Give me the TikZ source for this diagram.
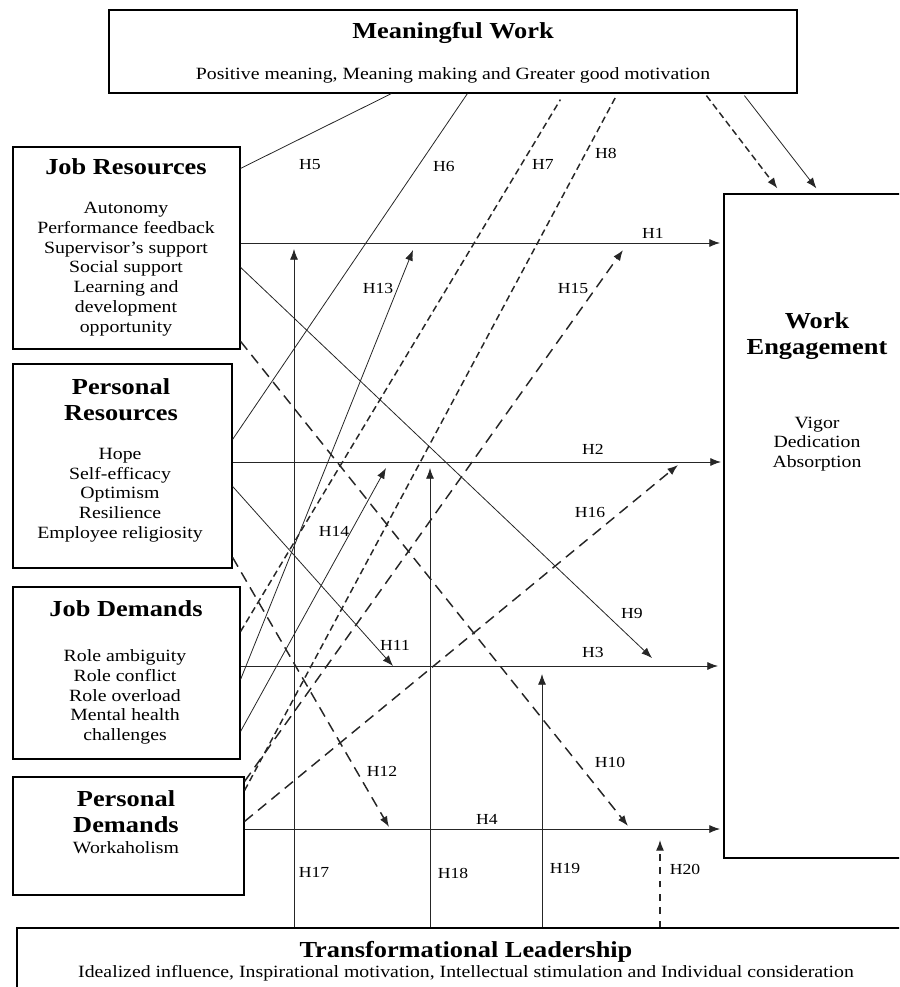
\documentclass[tikz,border=0pt]{standalone}
\usepackage{fontspec}
\setmainfont{Liberation Serif}[FakeStretch=1.15]
\usetikzlibrary{arrows.meta,calc}

\begin{document}
\begin{tikzpicture}[x=0.75pt,y=-0.75pt,>={Latex[length=8pt,width=6pt]},
	box/.style={draw,line width=0.9pt,inner sep=0pt},
	ttl/.style={font=\fontsize{17.2}{19.5}\selectfont\bfseries,align=center,inner sep=0pt},
	txt/.style={font=\fontsize{12.9}{14.8}\selectfont,align=center,inner sep=0pt},
	hyp/.style={font=\fontsize{11.5}{13}\selectfont,inner sep=0pt},
	link/.style={line width=0.6pt,black!85},
	sdash/.style={line width=1.1pt,dash pattern=on 5pt off 3pt},
	ldash/.style={line width=1.1pt,dash pattern=on 8pt off 5pt}]

\clip (0,0) rectangle (899,987);

%----------------------------
% Boxes
%----------------------------
\node[box,minimum width=516pt,minimum height=62.25pt] (mw) at (453,51.5) {};
\node[ttl] (mwt) at (453,33) {Meaningful Work};
\node[txt] (mwd) at (453,75) {Positive meaning, Meaning making and Greater good motivation};

\node[box,minimum width=170.25pt,minimum height=151.5pt] (jr) at (126.5,248) {};
\node[ttl] (jrt) at (126,167) {Job Resources};
\node[txt] (jrd) at (126,269) {Autonomy\\Performance feedback\\Supervisor's support\\Social support\\Learning and\\development\\opportunity};

\node[box,minimum width=164.25pt,minimum height=153pt] (pr) at (122.5,466) {};
\node[ttl] (prt) at (121,400) {Personal\\Resources};
\node[txt] (prd) at (120,495) {Hope\\Self-efficacy\\Optimism\\Resilience\\Employee religiosity};

\node[box,minimum width=170.25pt,minimum height=129pt] (jd) at (126.5,673) {};
\node[ttl] (jdt) at (126,609) {Job Demands};
\node[txt] (jdd) at (125,697) {Role ambiguity\\Role conflict\\Role overload\\Mental health\\challenges};

\node[box,minimum width=173.25pt,minimum height=88.5pt] (pd) at (128.5,836) {};
\node[ttl] (pdt) at (126,812) {Personal\\Demands};
\node[txt] (pdd) at (126,848) {Workaholism};

\node[box,minimum width=139.5pt,minimum height=498pt] (we) at (817,526) {};
\node[ttl] (wet) at (817,336) {Work\\Engagement};
\node[txt] (wed) at (817,444) {Vigor\\Dedication\\Absorption};

\node[box,minimum width=673.5pt,minimum height=61.5pt] (tl) at (466,969) {};
\node[ttl] (tlt) at (466,952) {Transformational Leadership};
\node[txt] (tld) at (466,973) {Idealized influence, Inspirational motivation, Intellectual stimulation and Individual consideration};

%----------------------------
% Arrow tips
%----------------------------
\coordinate (t1) at (720,243);
\coordinate (t2) at (721,462);
\coordinate (t3) at (718,666);
\coordinate (t4) at (720,829);
\coordinate (t9) at (652,658);
\coordinate (t10) at (628,826);
\coordinate (t11) at (393,666);
\coordinate (t12) at (389,827);
\coordinate (t13) at (413,250);
\coordinate (t14) at (386,468);
\coordinate (t15) at (623,250);
\coordinate (t16) at (678,465);
\coordinate (t17) at (294,249);
\coordinate (t18) at (430,468);
\coordinate (t19) at (542,674);
\coordinate (t20) at (660,840);

%----------------------------
% Direct effects H1-H4
%----------------------------
\draw[link,->] (jr.east |- t1) -- (t1);
\draw[link,->] (pr.east |- t2) -- (t2);
\draw[link,->] (jd.east |- t3) -- (t3);
\draw[link,->] (pd.east |- t4) -- (t4);

%----------------------------
% Links to Meaningful Work H5-H8
%----------------------------
\draw[link] ($(jr.north east)+(0,22)$) -- ($(mw.south west)+(283,0)$);
\draw[link] ($(pr.north east)+(0,76)$) -- ($(mw.south west)+(359,0)$);
\draw[link,sdash] ($(jd.north east)+(0,45)$) -- ($(mw.south west)+(452,6)$);
\draw[link,sdash] ($(pd.north east)+(0,14)$) -- ($(mw.south west)+(508,2)$);

% Meaningful Work -> Work Engagement
\draw[link,sdash,->] ($(mw.south west)+(598,2)$) -- ($(we.north west)+(54,-5)$);
\draw[link,->] ($(mw.south west)+(636,2)$) -- ($(we.north west)+(93,-5)$);

%----------------------------
% Moderation H9-H16
%----------------------------
\draw[link,->] ($(jr.north east)+(0,121)$) -- (t9);
\draw[link,ldash,->] ($(jr.north east)+(0,195)$) -- (t10);
\draw[link,->] ($(pr.north east)+(0,123)$) -- (t11);
\draw[link,ldash,->] ($(pr.north east)+(0,194)$) -- (t12);
\draw[link,->] ($(jd.north east)+(0,93)$) -- (t13);
\draw[link,->] ($(jd.north east)+(0,145)$) -- (t14);
\draw[link,ldash,->] ($(pd.north east)+(0,5)$) -- (t15);
\draw[link,ldash,->] ($(pd.north east)+(0,45)$) -- (t16);

%----------------------------
% Transformational Leadership H17-H20
%----------------------------
\draw[link,->] (tl.north -| t17) -- (t17);
\draw[link,->] (tl.north -| t18) -- (t18);
\draw[link,->] (tl.north -| t19) -- (t19);
\draw[link,->,dash pattern=on 5pt off 5pt,line width=1pt] (tl.north -| t20) -- (t20);

%----------------------------
% Hypothesis labels
%----------------------------
\node[hyp] (l1) at (653,233) {H1};
\node[hyp] (l2) at (593,449) {H2};
\node[hyp] (l3) at (593,652) {H3};
\node[hyp] (l4) at (487,819) {H4};
\node[hyp] (l5) at (310,165) {H5};
\node[hyp] (l6) at (444,167) {H6};
\node[hyp] (l7) at (543,164) {H7};
\node[hyp] (l8) at (606,153) {H8};
\node[hyp] (l9) at (632,613) {H9};
\node[hyp] (l10) at (610,762) {H10};
\node[hyp] (l11) at (395,645) {H11};
\node[hyp] (l12) at (382,771) {H12};
\node[hyp] (l13) at (378,288) {H13};
\node[hyp] (l14) at (334,531) {H14};
\node[hyp] (l15) at (573,289) {H15};
\node[hyp] (l16) at (590,512) {H16};
\node[hyp] (l17) at (314,872) {H17};
\node[hyp] (l18) at (453,873) {H18};
\node[hyp] (l19) at (565,868) {H19};
\node[hyp] (l20) at (685,869) {H20};

\end{tikzpicture}
\end{document}
